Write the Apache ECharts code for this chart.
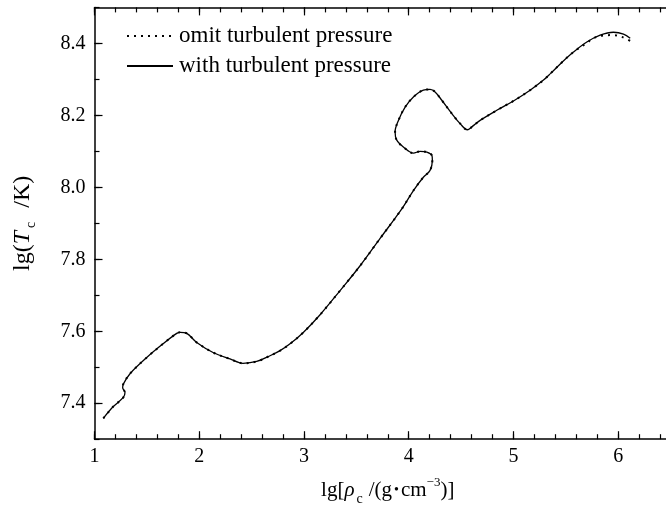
<!DOCTYPE html>
<html>
<head>
<meta charset="utf-8">
<script src="https://cdn.jsdelivr.net/npm/echarts@6/dist/echarts.min.js"></script>
<style>
  html, body { margin: 0; padding: 0; background: #fff; }
  #chart { width: 666px; height: 508px; }
</style>
</head>
<body>
<div id="chart"></div>
<script>
// tick labels
const xTicks = [1, 2, 3, 4, 5, 6];
const yTicks = [7.4, 7.6, 7.8, 8.0, 8.2, 8.4];

const seriesNames = ["omit turbulent pressure", "with turbulent pressure"];

// lg(rho_c), lg(T_c) track shared by both models
const commonTrack = [
  [1.084, 7.358], [1.177, 7.390], [1.275, 7.416], [1.291, 7.430],
  [1.269, 7.443], [1.275, 7.453], [1.339, 7.482], [1.499, 7.527],
  [1.654, 7.565], [1.785, 7.594], [1.817, 7.597], [1.881, 7.594],
  [1.976, 7.569], [2.132, 7.541], [2.294, 7.523], [2.418, 7.511],
  [2.549, 7.516], [2.676, 7.532], [2.772, 7.546], [2.867, 7.565],
  [2.991, 7.596], [3.154, 7.646], [3.345, 7.713], [3.536, 7.782],
  [3.727, 7.858], [3.934, 7.940], [4.045, 7.991], [4.140, 8.028],
  [4.204, 8.047], [4.226, 8.075], [4.221, 8.089], [4.173, 8.098],
  [4.109, 8.100], [4.045, 8.095], [3.949, 8.112], [3.886, 8.131],
  [3.870, 8.154], [3.902, 8.186], [3.966, 8.223], [4.045, 8.251],
  [4.140, 8.270], [4.204, 8.272], [4.252, 8.265], [4.316, 8.242],
  [4.412, 8.205], [4.491, 8.177], [4.561, 8.160], [4.603, 8.168],
  [4.682, 8.186], [4.841, 8.214], [5.000, 8.240], [5.159, 8.270],
  [5.287, 8.298], [5.360, 8.318], [5.462, 8.347], [5.573, 8.376]
];
// the two models split near the end
const omitTail = [[5.700, 8.401], [5.761, 8.414], [5.857, 8.422], [5.952, 8.423], [6.035, 8.418], [6.115, 8.407]];
const withTail = [[5.701, 8.404], [5.828, 8.423], [5.955, 8.431], [6.051, 8.426], [6.115, 8.414]];

const omitData = commonTrack.concat(omitTail);
const withData = commonTrack.concat(withTail);

const FONT = "Liberation Serif";
const black = "#000";

function frameAxis(pos, extra) {
  return Object.assign({
    type: "value",
    position: pos,
    axisLine: { show: true, onZero: false, lineStyle: { color: black, width: 1.5 } },
    axisTick: { show: true, inside: true, length: 5, lineStyle: { color: black, width: 1.2 } },
    axisLabel: { show: false },
    splitLine: { show: false }
  }, extra);
}

function majorAxis(pos, ticks, extra) {
  return Object.assign({
    type: "value",
    position: pos,
    axisLine: { show: false },
    axisTick: { show: true, inside: true, length: 8, customValues: ticks, lineStyle: { color: black, width: 1.2 } },
    axisLabel: { show: false },
    splitLine: { show: false }
  }, extra);
}

const xRange = { min: 1, max: 6.6 };
const yRange = { min: 7.3, max: 8.5 };

function nameRich(size, subPad) {
  return {
    n: { fontFamily: FONT, fontSize: size, color: black, lineHeight: 28 },
    i: { fontFamily: FONT, fontSize: size, fontStyle: "italic", color: black, lineHeight: 28 },
    s: { fontFamily: FONT, fontSize: 14, color: black, verticalAlign: "bottom", lineHeight: 22, padding: subPad },
    d: { fontFamily: FONT, fontSize: 14, color: black, lineHeight: 28, padding: [0, 2, 0, 2] },
    u: { fontFamily: FONT, fontSize: 13, color: black, verticalAlign: "top", lineHeight: 18 }
  };
}

const chart = echarts.init(document.getElementById("chart"));
chart.setOption({
  animation: false,
  backgroundColor: "#fff",
  textStyle: { fontFamily: FONT, color: black },
  grid: { left: 94.5, right: -15, top: 7.4, bottom: 68.8, outerBoundsMode: "none", containLabel: false },
  legend: {
    data: seriesNames,
    orient: "vertical",
    left: 121,
    top: 18,
    itemWidth: 46,
    itemHeight: 20,
    itemGap: 4,
    itemStyle: { opacity: 0 },
    textStyle: { fontFamily: FONT, fontSize: 23, lineHeight: 26, color: black, padding: [0, 0, 0, 1] }
  },
  xAxis: [
    frameAxis("bottom", Object.assign({
      interval: 0.2,
      axisLabel: {
        show: true, fontFamily: FONT, fontSize: 20, color: black, margin: 8,
        customValues: xTicks,
        formatter: (v) => String(v)
      },
      name: "{n|lg[}{i|ρ}{s|c}{n|/(g}{d|•}{n|cm}{u|−3}{n|)]}",
      nameLocation: "middle",
      nameGap: 37,
      nameTextStyle: { rich: nameRich(21, [0, 6, -2, 2]) }
    }, xRange)),
    majorAxis("bottom", xTicks, xRange),
    frameAxis("top", Object.assign({ interval: 0.2 }, xRange)),
    majorAxis("top", xTicks, xRange)
  ],
  yAxis: [
    frameAxis("left", Object.assign({
      interval: 0.1,
      axisLabel: {
        show: true, fontFamily: FONT, fontSize: 20, color: black, margin: 9,
        customValues: yTicks,
        formatter: (v) => v.toFixed(1)
      },
      name: "{n|lg(}{i|T}{s|c}{n| /K)}",
      nameLocation: "middle",
      nameGap: 58,
      nameRotate: 90,
      nameTextStyle: { rich: nameRich(24, [0, 8, -2, 3]) }
    }, yRange)),
    majorAxis("left", yTicks, yRange),
    frameAxis("right", Object.assign({ interval: 0.1 }, yRange)),
    majorAxis("right", yTicks, yRange)
  ],
  series: [
    {
      name: seriesNames[1],
      type: "line",
      data: withData,
      smooth: 0.35,
      showSymbol: false,
      symbol: "none",
      color: black,
      z: 2,
      lineStyle: { color: black, width: 1.3, type: "solid" }
    },
    {
      name: seriesNames[0],
      type: "line",
      data: omitData,
      smooth: 0.35,
      showSymbol: false,
      symbol: "none",
      color: black,
      z: 3,
      lineStyle: { color: black, width: 2, type: [2, 5] }
    }
  ]
});
</script>
</body>
</html>
